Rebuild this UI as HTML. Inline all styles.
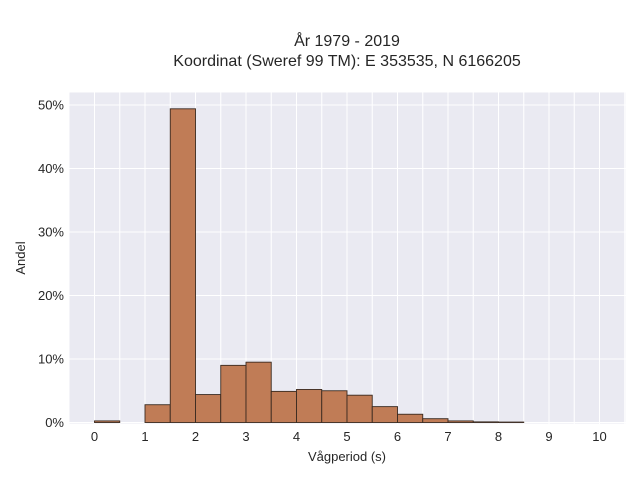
<!DOCTYPE html>
<html><head><meta charset="utf-8">
<style>
body{margin:0;background:#fff;}
svg text{font-family:"Liberation Sans",sans-serif;fill:#262626;}
</style></head>
<body>
<svg id="chart" width="640" height="480" xmlns="http://www.w3.org/2000/svg">
<text x="347" y="46" font-size="16" text-anchor="middle">År 1979 - 2019</text>
<text x="347" y="66" font-size="16" text-anchor="middle">Koordinat (Sweref 99 TM): E 353535, N 6166205</text>
<rect x="69.5" y="92.5" width="556" height="331" fill="#eaeaf2"/>
<g id="grid"></g>
<g id="bars"></g>
<g id="ticks"></g>
<text x="347" y="461" font-size="13" text-anchor="middle">Vågperiod (s)</text>
<text x="25" y="258" font-size="13" text-anchor="middle" transform="rotate(-90 25 258)">Andel</text>
</svg>
<script>
const binStarts=[0,0.5,1,1.5,2,2.5,3,3.5,4,4.5,5,5.5,6,6.5,7,7.5,8];
const shares=[0.25,0,2.8,49.4,4.4,9.0,9.5,4.9,5.2,5.0,4.3,2.5,1.3,0.6,0.25,0.1,0.07];
const binWidth=0.5;
const xTicks=[0,1,2,3,4,5,6,7,8,9,10];
const yTicks=[0,10,20,30,40,50];
const NS="http://www.w3.org/2000/svg";
const xs=v=>94.5+v*50.5;
const ys=v=>422.5-v*6.35;
const grid=document.getElementById('grid'),bars=document.getElementById('bars'),ticks=document.getElementById('ticks');
function mk(tag,attrs,parent){const e=document.createElementNS(NS,tag);for(const k in attrs)e.setAttribute(k,attrs[k]);parent.appendChild(e);return e;}
for(let v=-0.5;v<=10.5;v+=0.5){
  if(xs(v)<70||xs(v)>625)continue;
  const l=mk('line',{x1:xs(v),x2:xs(v),y1:92.5,y2:423.5,stroke:'#fff','stroke-width':1},grid);
  
  
}
yTicks.forEach(t=>{
  const l=mk('line',{x1:69.5,x2:625.5,y1:ys(t),y2:ys(t),stroke:'#fff','stroke-width':1},grid);
  
  
  const tx=mk('text',{x:64,y:ys(t)+4.5,'font-size':13,'text-anchor':'end'},ticks);
  tx.textContent=t+'%';
  
  
});
xTicks.forEach(t=>{
  const tx=mk('text',{x:xs(t),y:441,'font-size':13,'text-anchor':'middle'},ticks);
  tx.textContent=t;
  
  
});
binStarts.forEach((b,i)=>{
  if(shares[i]<=0)return;
  const y=ys(shares[i]);
  const r=mk('rect',{x:xs(b),y:y,width:xs(b+binWidth)-xs(b),height:ys(0)-y,fill:'#c07c56',stroke:'#3a2a20','stroke-width':0.9},bars);
  
  
});
</script>
</body></html>
